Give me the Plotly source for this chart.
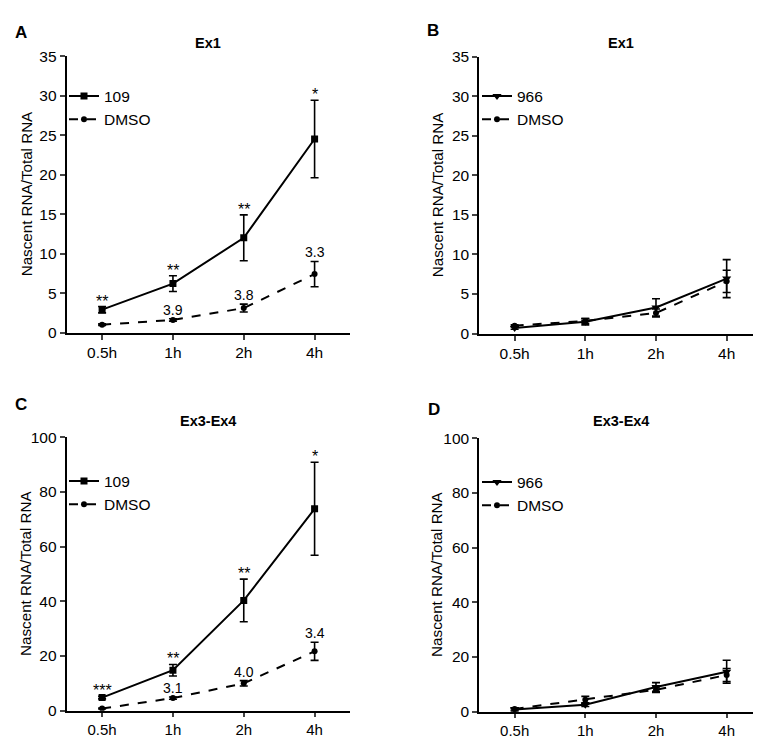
import plotly.graph_objects as go

times = ["0.5h", "1h", "2h", "4h"]
xpos = [0, 1, 2, 3]

# Panel A (Ex1, 109 vs DMSO)
a_109 = [2.9, 6.2, 12.0, 24.5]
a_109_err = [0.4, 1.0, 2.9, 4.9]
a_dmso = [1.0, 1.6, 3.1, 7.4]
a_dmso_err = [0.1, 0.15, 0.5, 1.6]
a_sig = ["**", "**", "**", "*"]
a_fold = ["", "3.9", "3.8", "3.3"]

# Panel B (Ex1, 966 vs DMSO)
b_966 = [0.7, 1.5, 3.3, 6.95]
b_966_err = [0.15, 0.4, 1.1, 2.4]
b_dmso = [1.0, 1.6, 2.6, 6.6]
b_dmso_err = [0.1, 0.3, 0.5, 1.4]

# Panel C (Ex3-Ex4, 109 vs DMSO)
c_109 = [4.8, 14.8, 40.3, 73.8]
c_109_err = [0.5, 2.1, 7.8, 17.0]
c_dmso = [0.8, 4.6, 10.0, 21.7]
c_dmso_err = [0.2, 0.4, 1.0, 3.3]
c_sig = ["***", "**", "**", "*"]
c_fold = ["", "3.1", "4.0", "3.4"]

# Panel D (Ex3-Ex4, 966 vs DMSO)
d_966 = [0.8, 2.5, 9.0, 14.6]
d_966_err = [0.6, 0.6, 1.6, 4.2]
d_dmso = [1.0, 4.4, 8.0, 13.4]
d_dmso_err = [0.4, 1.2, 1.0, 2.4]

FONT = "Liberation Sans, Arial, sans-serif"
W, H = 761, 740

fig = go.Figure()


def add_series(vals, errs, name, symbol, msize, dash, xa, ya, legend):
    fig.add_trace(go.Scatter(
        x=xpos, y=vals, name=name, mode="lines+markers",
        line=dict(color="black", width=2, dash=dash),
        marker=dict(symbol=symbol, size=msize, color="black"),
        error_y=dict(type="data", array=errs, visible=True, color="black",
                     thickness=1.6, width=4),
        xaxis=xa, yaxis=ya, legend=legend, showlegend=True,
    ))


add_series(a_109, a_109_err, "109", "square", 7, "solid", "x", "y", "legend")
add_series(a_dmso, a_dmso_err, "DMSO", "circle", 6, "dash", "x", "y", "legend")
add_series(b_966, b_966_err, "966", "triangle-down", 8, "solid", "x2", "y2", "legend2")
add_series(b_dmso, b_dmso_err, "DMSO", "circle", 6, "dash", "x2", "y2", "legend2")
add_series(c_109, c_109_err, "109", "square", 7, "solid", "x3", "y3", "legend3")
add_series(c_dmso, c_dmso_err, "DMSO", "circle", 6, "dash", "x3", "y3", "legend3")
add_series(d_966, d_966_err, "966", "triangle-down", 8, "solid", "x4", "y4", "legend4")
add_series(d_dmso, d_dmso_err, "DMSO", "circle", 6, "dash", "x4", "y4", "legend4")

# panel pixel geometry: (left, right, top, bottom)
panels = {
    "": (58.7, 342, 40, 323),
    "2": (471.3, 754, 40.7, 324),
    "3": (58.7, 342, 430, 710),
    "4": (471.3, 754, 431, 711),
}
yranges = {"": [0, 35], "2": [0, 35], "3": [0, 100], "4": [0, 100]}
ydticks = {"": 5, "2": 5, "3": 20, "4": 20}
xtickfs = {"": 15.5, "2": 15.5, "3": 15, "4": 15}
xticklen = {"": 5, "2": 5, "3": 4, "4": 4}

layout = dict(
    width=W, height=H, margin=dict(l=0, r=0, t=0, b=0),
    paper_bgcolor="white", plot_bgcolor="white",
    font=dict(family=FONT, color="black", size=15),
)
for k, (l, r, t, b) in panels.items():
    layout["xaxis" + k] = dict(
        domain=[l / W, r / W], range=[-0.5, 3.5],
        tickvals=xpos, ticktext=times, ticks="outside", ticklen=xticklen[k],
        tickwidth=1.5, showline=True, linecolor="black", linewidth=2,
        showgrid=False, zeroline=False, anchor="y" + k,
        tickfont=dict(size=xtickfs[k], family=FONT), fixedrange=True,
    )
    layout["yaxis" + k] = dict(
        domain=[1 - b / H, 1 - t / H], range=yranges[k],
        tick0=0, dtick=ydticks[k], ticks="outside", ticklen=5,
        tickwidth=1.5, showline=True, linecolor="black", linewidth=2,
        showgrid=False, zeroline=False, anchor="x" + k,
        tickfont=dict(size=15.5, family=FONT), fixedrange=True,
    )

legpos = {"legend": (56, 64), "legend2": (469, 64),
          "legend3": (56, 458), "legend4": (469, 459)}
for name, (lx, ly) in legpos.items():
    layout[name] = dict(
        x=lx / W, y=1 - ly / H, xanchor="left", yanchor="top",
        bgcolor="rgba(0,0,0,0)", font=dict(size=15.5, family=FONT),
        itemwidth=30, tracegroupgap=0,
    )

fig.update_layout(**layout)

ann = []
# panel letters
for txt, x, y in [("A", 13, 16), ("B", 425, 14), ("C", 13, 397), ("D", 426, 402)]:
    ann.append(dict(text="<b>%s</b>" % txt, x=x / W, y=1 - y / H, xref="paper",
                    yref="paper", showarrow=False, font=dict(size=17, family=FONT),
                    xanchor="center", yanchor="middle"))
# panel titles
for txt, k, y in [("Ex1", "", 27), ("Ex1", "2", 27), ("Ex3-Ex4", "3", 413), ("Ex3-Ex4", "4", 414)]:
    l, r, _, _ = panels[k]
    ann.append(dict(text="<b>%s</b>" % txt, x=(l + r) / 2 / W, y=1 - y / H,
                    xref="paper", yref="paper", showarrow=False,
                    font=dict(size=14.5, family=FONT), xanchor="center", yanchor="middle"))
# y-axis titles
for k, cx in [("", 18), ("2", 429), ("3", 18), ("4", 429)]:
    _, _, t, b = panels[k]
    ann.append(dict(text="Nascent RNA/Total RNA", x=cx / W, y=1 - (t + b) / 2 / H,
                    xref="paper", yref="paper", showarrow=False, textangle=-90,
                    font=dict(size=15.2, family=FONT), xanchor="center", yanchor="middle"))


def add_labels(vals, errs, labels, k, size, shift):
    for xi, v, e, lab in zip(xpos, vals, errs, labels):
        if not lab:
            continue
        ann.append(dict(text=lab, x=xi, y=v + e, xref="x" + k, yref="y" + k,
                        showarrow=False, xanchor="center", yanchor="bottom",
                        yshift=shift, font=dict(size=size, family=FONT)))


add_labels(a_109, a_109_err, a_sig, "", 16, -5)
add_labels(a_dmso, a_dmso_err, a_fold, "", 14, -1)
add_labels(c_109, c_109_err, c_sig, "3", 16, -5)
add_labels(c_dmso, c_dmso_err, c_fold, "3", 14, -1)

fig.update_layout(annotations=ann)
fig.write_html("out.html")
